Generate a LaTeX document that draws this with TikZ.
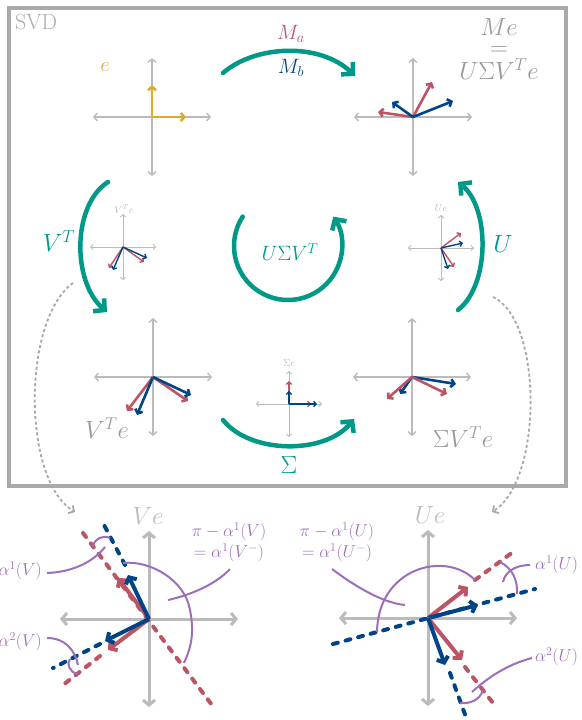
\documentclass[tikz,border=0pt]{standalone}
\usetikzlibrary{arrows.meta}
\definecolor{tolblue}{HTML}{004488}
\definecolor{tolred}{HTML}{BB5566}
\definecolor{tolyellow}{HTML}{DDAA33}
\definecolor{tolteal}{HTML}{009988}
\definecolor{tolpurple}{HTML}{9B6FBB}
\definecolor{axgray}{HTML}{BBBBBB}
\definecolor{framegray}{HTML}{AAAAAA}
\definecolor{txtgray}{HTML}{999999}
\definecolor{smallgray}{HTML}{BBBBBB}
\begin{document}
\begin{tikzpicture}[x=1pt,y=-1pt,
  frame/.style={draw=framegray, line width=4},
  axS/.style={draw=axgray, line width=0.9, arrows={Straight Barb[length=2.2pt,width=5pt]-Straight Barb[length=2.2pt,width=5pt]}},
  axM/.style={draw=axgray, line width=1.4, arrows={Straight Barb[length=3.5pt,width=8pt]-Straight Barb[length=3.5pt,width=8pt]}},
  axL/.style={draw=axgray, line width=3, arrows={Straight Barb[length=5pt,width=12pt]-Straight Barb[length=5pt,width=12pt]}},
  vecS/.style={line width=1.4, arrows={-Straight Barb[length=2.5pt,width=5.5pt]}},
  vecM/.style={line width=2.6, arrows={-Straight Barb[length=3.5pt,width=8pt]}},
  vecL/.style={line width=4, arrows={-Straight Barb[length=5pt,width=12pt]}},
  tealarr/.style={draw=tolteal, line width=4.5, line cap=round, arrows={-Straight Barb[length=8pt,width=17pt]}},
  grayconn/.style={draw=axgray!90!black, line width=1.8, dash pattern=on 3pt off 2.5pt, arrows={-Straight Barb[length=4pt,width=9pt]}},
  dashL/.style={line width=4, line cap=round, dash pattern=on 5pt off 8pt},
  purp/.style={draw=tolpurple, line width=2},
  lblL/.style={inner sep=0, font=\fontsize{23}{26}\selectfont},
  lblM/.style={inner sep=0, font=\fontsize{21}{24}\selectfont},
  lblS/.style={inner sep=0, font=\fontsize{10}{12}\selectfont, text=smallgray},
  lblP/.style={inner sep=0, font=\fontsize{17}{19}\selectfont, text=tolpurple}
]
\useasboundingbox (0,0) rectangle (581,720);
\draw[frame] (9,8) rectangle (566,486);
\node[anchor=north west, inner sep=0, text=framegray, font=\fontsize{22}{25}\selectfont] (svd) at (15,14) {SVD};

% plot centres
\coordinate (pE) at (152,117);
\coordinate (pM) at (413,117);
\coordinate (pVs) at (123,247);
\coordinate (pUs) at (441,248);
\coordinate (pV) at (153,377);
\coordinate (pS) at (412,377);
\coordinate (pSs) at (289,404);
\coordinate (bV) at (149,619);
\coordinate (bU) at (428,618);

% axes
\foreach \c in {pE,pM,pV,pS}{
  \draw[axM] (\c) ++(-59,0) -- ++(118,0);
  \draw[axM] (\c) ++(0,-59) -- ++(0,118);
}
\foreach \c in {pVs,pUs,pSs}{
  \draw[axS] (\c) ++(-33,0) -- ++(66,0);
  \draw[axS] (\c) ++(0,-33) -- ++(0,66);
}
\foreach \c in {bV,bU}{
  \draw[axL] (\c) ++(-89,0) -- ++(178,0);
  \draw[axL] (\c) ++(0,-88) -- ++(0,176);
}

% e
\draw[vecM, tolyellow] (pE) -- ++(0,-32);
\draw[vecM, tolyellow] (pE) -- ++(34,0);
\node[lblM, text=tolyellow] (le) at (105,67) {$e$};

% Me
\draw[vecM, tolred] (pM) -- ++(19,-35);
\draw[vecM, tolred] (pM) -- ++(-35,-5);
\draw[vecM, tolblue] (pM) -- ++(40,-16);
\draw[vecM, tolblue] (pM) -- ++(-21,-15);
\node[lblL, text=txtgray, anchor=north, align=center, font=\fontsize{23}{20}\selectfont] (lMe) at (499,18)
  {$Me$\\$=$\\[2pt]$U\Sigma V^Te$};

% small VTe
\draw[vecS, tolred] (pVs) -- ++(-14,21);
\draw[vecS, tolred] (pVs) -- ++(21,15);
\draw[vecS, tolblue] (pVs) -- ++(-10,23);
\draw[vecS, tolblue] (pVs) -- ++(24,11);
\node[lblS] (lVs) at (124,209) {$V^Te$};

% small Ue
\draw[vecS, tolred] (pUs) -- ++(20,-15);
\draw[vecS, tolblue] (pUs) -- ++(22,-5);
\draw[vecS, tolred] (pUs) -- ++(13,19);
\draw[vecS, tolblue] (pUs) -- ++(7,21);
\node[lblS] (lUs) at (441,208) {$Ue$};

% VTe
\draw[vecM, tolred] (pV) -- ++(-26,34);
\draw[vecM, tolblue] (pV) -- ++(-16,38);
\draw[vecM, tolred] (pV) -- ++(35,24);
\draw[vecM, tolblue] (pV) -- ++(38,18);
\node[lblL, text=txtgray] (lV) at (107,428) {$V^Te$};

% Sigma VTe
\draw[vecM, tolblue] (pS) -- ++(-12,17);
\draw[vecM, tolred] (pS) -- ++(-25,22);
\draw[vecM, tolblue] (pS) -- ++(44,7);
\draw[vecM, tolred] (pS) -- ++(35,17);
\node[lblL, text=txtgray] (lS) at (463,437) {$\Sigma V^Te$};

% Sigma e
\draw[vecS, tolred] (pSs) -- ++(0,-23);
\draw[vecS, tolblue] (pSs) -- ++(0,-13);
\draw[vecS, tolred] (pSs) -- ++(22,0);
\draw[vecS, tolblue] (pSs) -- ++(28,0);
\node[lblS] (lSs) at (289,363) {$\Sigma e$};

% teal transformations
\coordinate (tA1) at (223,73); \coordinate (tA2) at (355,76);
\draw[tealarr] (tA1) .. controls (255,45) and (320,42) .. (tA2);
\node[lblM, text=tolred] (lMa) at (291,34) {$M_a$};
\node[lblM, text=tolblue] (lMb) at (291,68) {$M_b$};

\coordinate (tL1) at (108,182); \coordinate (tL2) at (107,312);
\draw[tealarr] (tL1) .. controls (72,205) and (72,282) .. (tL2);
\node[lblL, text=tolteal] (lVT) at (59,241) {$V^T$};

\coordinate (tR1) at (458,310); \coordinate (tR2) at (458,182);
\draw[tealarr] (tR1) .. controls (490,285) and (490,208) .. (tR2);
\node[lblL, text=tolteal] (lU) at (503,244) {$U$};

\coordinate (tB1) at (223,420); \coordinate (tB2) at (354,419);
\draw[tealarr] (tB1) .. controls (250,454) and (325,455) .. (tB2);
\node[lblL, text=tolteal] (lSig) at (289,465) {$\Sigma$};

\coordinate (cC) at (288,246);
\draw[tealarr] (cC) ++(213:54) arc[start angle=213, end angle=-33, radius=54];
\node[lblM, text=tolteal] (lUSV) at (290,252) {$U\Sigma V^T$};

% gray connectors to detail plots
\coordinate (gL1) at (73,283); \coordinate (gL2) at (75,512);
\draw[grayconn] (gL1) .. controls (22,320) and (22,480) .. (gL2);
\coordinate (gR1) at (493,297); \coordinate (gR2) at (492,512);
\draw[grayconn] (gR1) .. controls (543,320) and (543,480) .. (gR2);

% ---------- Ve detail ----------
\draw[dashL, tolred] (83,533) -- (212,705);
\draw[dashL, tolblue] (125,565) -- (103,523);
\draw[dashL, tolred] (100,656) -- (63,685);
\draw[dashL, tolblue] (100,644) -- (53,668);
\draw[vecL, tolred] (bV) -- ++(-31,-41);
\draw[vecL, tolblue] (bV) -- ++(-21,-44);
\draw[vecL, tolred] (bV) -- ++(-41,31);
\draw[vecL, tolblue] (bV) -- ++(-44,22);
\node[lblL, text=smallgray] (lVe) at (148,516) {$Ve$};
% annotations
\draw[purp] (93,546) .. controls (95,538) and (103,535) .. (110,538);
\draw[purp] (47,573) .. controls (75,572) and (95,560) .. (105,547);
\node[lblP, anchor=east] (a1V) at (42,571) {$\alpha^1(V)$};
\draw[purp] (70,659) .. controls (66,664) and (70,672) .. (77,674);
\draw[purp] (47,638) .. controls (65,638) and (75,650) .. (78,665);
\node[lblP, anchor=east] (a2V) at (42,642) {$\alpha^2(V)$};
\draw[purp] (123,563) .. controls (150,560) and (185,580) .. (190,610) .. controls (195,635) and (190,650) .. (184,663);
\draw[purp] (230,569) .. controls (215,585) and (190,595) .. (168,600);
\node[lblP] (pa1V) at (229,532) {$\pi-\alpha^1(V)$};
\node[lblP] (pa1Vb) at (229,553) {$=\alpha^1(V^{-})$};

% ---------- Ue detail ----------
\draw[dashL, tolblue] (333,644) -- (535,589);
\draw[dashL, tolred] (475,580) -- (513,552);
\draw[dashL, tolred] (465,667) -- (493,703);
\draw[dashL, tolblue] (450,673) -- (467,720);
\draw[vecL, tolred] (bU) -- ++(40,-31);
\draw[vecL, tolblue] (bU) -- ++(50,-13);
\draw[vecL, tolred] (bU) -- ++(34,42);
\draw[vecL, tolblue] (bU) -- ++(17,47);
\node[lblL, text=smallgray] (lUe) at (430,515) {$Ue$};
\draw[purp] (500,562) .. controls (512,568) and (518,580) .. (517,594);
\draw[purp] (530,565) .. controls (515,565) and (505,572) .. (503,582);
\node[lblP, anchor=west] (a1U) at (535,565) {$\alpha^1(U)$};
\draw[purp] (483,690) .. controls (480,700) and (470,704) .. (460,703);
\draw[purp] (532,658) .. controls (505,665) and (485,680) .. (472,692);
\node[lblP, anchor=west] (a2U) at (535,657) {$\alpha^2(U)$};
\draw[purp] (377,632) .. controls (378,568) and (445,550) .. (475,580);
\draw[purp] (332,569) .. controls (360,590) and (385,603) .. (405,605);
\node[lblP] (pa1U) at (337,532) {$\pi-\alpha^1(U)$};
\node[lblP] (pa1Ub) at (337,553) {$=\alpha^1(U^{-})$};
\end{tikzpicture}
\end{document}
